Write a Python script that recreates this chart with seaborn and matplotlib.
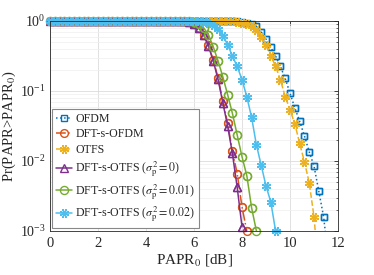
import numpy as np
import pandas as pd
import matplotlib
matplotlib.use("Agg")
import matplotlib.pyplot as plt
import seaborn as sns
from matplotlib.ticker import LogLocator, NullFormatter, LogFormatterMathtext, FixedLocator

sns.set_theme(style="white")
plt.rcParams["font.family"] = ["Liberation Serif", "DejaVu Serif"]
plt.rcParams["mathtext.fontset"] = "stix"

# PAPR0 grid [dB]
papr_grid = [0.0, 0.2, 0.4, 0.6, 0.8, 1.0, 1.2, 1.4, 1.6, 1.8,
             2.0, 2.2, 2.4, 2.6, 2.8, 3.0, 3.2, 3.4, 3.6, 3.8,
             4.0, 4.2, 4.4, 4.6, 4.8, 5.0, 5.2, 5.4, 5.6, 5.8,
             6.0, 6.2, 6.4, 6.6, 6.8, 7.0, 7.2, 7.4, 7.6, 7.8,
             8.0, 8.2, 8.4, 8.6, 8.8, 9.0, 9.2, 9.4, 9.6, 9.8,
             10.0, 10.2, 10.4, 10.6, 10.8, 11.0, 11.2, 11.4, 11.6]

ccdf_ofdm = [1.0, 1.0, 1.0, 1.0, 1.0, 1.0, 1.0, 1.0, 1.0, 1.0,
             1.0, 1.0, 1.0, 1.0, 1.0, 1.0, 1.0, 1.0, 1.0, 1.0,
             1.0, 1.0, 1.0, 1.0, 1.0, 1.0, 1.0, 1.0, 1.0, 1.0,
             1.0, 1.0, 1.0, 1.0, 1.0, 1.0, 1.0, 1.0, 0.995, 0.99,
             0.98, 0.95, 0.91, 0.84, 0.70, 0.55, 0.42, 0.316, 0.224, 0.151,
             0.093, 0.0575, 0.037, 0.023, 0.0135, 0.0085, 0.0037, 0.0016, 0.0004]

ccdf_dfts_ofdm = [1.0, 1.0, 1.0, 1.0, 1.0, 1.0, 1.0, 1.0, 1.0, 1.0,
                  1.0, 1.0, 1.0, 1.0, 1.0, 1.0, 1.0, 1.0, 1.0, 1.0,
                  1.0, 1.0, 1.0, 1.0, 1.0, 1.0, 1.0, 0.995, 0.985, 0.96,
                  0.91, 0.80, 0.64, 0.45, 0.28, 0.155, 0.072, 0.035, 0.0138, 0.0066,
                  0.0022, 0.001]

ccdf_otfs = [1.0, 1.0, 1.0, 1.0, 1.0, 1.0, 1.0, 1.0, 1.0, 1.0,
             1.0, 1.0, 1.0, 1.0, 1.0, 1.0, 1.0, 1.0, 1.0, 1.0,
             1.0, 1.0, 1.0, 1.0, 1.0, 1.0, 1.0, 1.0, 1.0, 1.0,
             1.0, 1.0, 1.0, 1.0, 1.0, 1.0, 1.0, 0.995, 0.99, 0.975,
             0.95, 0.91, 0.84, 0.74, 0.59, 0.45, 0.32, 0.224, 0.145, 0.083,
             0.054, 0.034, 0.018, 0.0098, 0.0049, 0.0016, 0.00025]

ccdf_dfts_otfs_0 = [1.0, 1.0, 1.0, 1.0, 1.0, 1.0, 1.0, 1.0, 1.0, 1.0,
                    1.0, 1.0, 1.0, 1.0, 1.0, 1.0, 1.0, 1.0, 1.0, 1.0,
                    1.0, 1.0, 1.0, 1.0, 1.0, 1.0, 1.0, 0.995, 0.985, 0.96,
                    0.91, 0.80, 0.63, 0.44, 0.27, 0.148, 0.068, 0.032, 0.0128, 0.0042,
                    0.00115]

ccdf_dfts_otfs_001 = [1.0, 1.0, 1.0, 1.0, 1.0, 1.0, 1.0, 1.0, 1.0, 1.0,
                      1.0, 1.0, 1.0, 1.0, 1.0, 1.0, 1.0, 1.0, 1.0, 1.0,
                      1.0, 1.0, 1.0, 1.0, 1.0, 1.0, 1.0, 1.0, 0.995, 0.985,
                      0.965, 0.91, 0.80, 0.64, 0.43, 0.27, 0.16, 0.089, 0.048, 0.0235,
                      0.0115, 0.0062, 0.00215, 0.001]

ccdf_dfts_otfs_002 = [1.0, 1.0, 1.0, 1.0, 1.0, 1.0, 1.0, 1.0, 1.0, 1.0,
                      1.0, 1.0, 1.0, 1.0, 1.0, 1.0, 1.0, 1.0, 1.0, 1.0,
                      1.0, 1.0, 1.0, 1.0, 1.0, 1.0, 1.0, 1.0, 1.0, 1.0,
                      0.995, 0.99, 0.975, 0.95, 0.89, 0.78, 0.62, 0.46, 0.316, 0.224,
                      0.145, 0.083, 0.042, 0.017, 0.0087, 0.0044, 0.0026, 0.001]

series_labels = ["OFDM", "DFT-s-OFDM", "OTFS",
                 r"DFT-s-OTFS ($\sigma^2_{\rm p} = 0$)",
                 r"DFT-s-OTFS ($\sigma^2_{\rm p} = 0.01$)",
                 r"DFT-s-OTFS ($\sigma^2_{\rm p} = 0.02$)"]
series_values = [ccdf_ofdm, ccdf_dfts_ofdm, ccdf_otfs,
                 ccdf_dfts_otfs_0, ccdf_dfts_otfs_001, ccdf_dfts_otfs_002]

colors = ["#0072BD", "#D95319", "#EDB120", "#7E2F8E", "#77AC30", "#4DBEEE"]
linestyles = [":", "-.", "--", "-", "-", "-"]
markers = ["s", "o", (8, 2, 22.5), "^", "o", (8, 2, 22.5)]
msizes = [4.6, 5.6, 6.6, 5.6, 5.8, 6.6]
mews = [1.0, 1.0, 1.0, 1.0, 1.0, 1.0]

fig = plt.figure(figsize=(3.74, 2.75), dpi=100)
ax = fig.add_axes([50 / 374, 44 / 275, 288 / 374, 210 / 275])

ax.set_yscale("log")
ax.set_xlim(0, 12)
ax.set_ylim(1e-3, 1)

for lab, vals, c, ls, m, ms, mew in zip(series_labels, series_values, colors,
                                        linestyles, markers, msizes, mews):
    df = pd.DataFrame({"papr": papr_grid[:len(vals)], "p": vals})
    sns.lineplot(data=df, x="papr", y="p", ax=ax, color=c, linestyle=ls,
                 linewidth=1.1, marker=m, markersize=ms, markerfacecolor="none",
                 markeredgecolor=c, markeredgewidth=mew, label=lab,
                 estimator=None, sort=False)
    inside = df[df["p"] >= 1e-3]
    ax.plot(inside["papr"], inside["p"], linestyle="none", marker=m,
            markersize=ms, markerfacecolor="none", markeredgecolor=c,
            markeredgewidth=mew, clip_on=False)

ax.xaxis.set_major_locator(FixedLocator([0, 2, 4, 6, 8, 10, 12]))
ax.yaxis.set_major_locator(LogLocator(base=10, numticks=10))
ax.yaxis.set_minor_locator(LogLocator(base=10, subs=np.arange(2, 10), numticks=20))
ax.yaxis.set_minor_formatter(NullFormatter())
ax.yaxis.set_major_formatter(LogFormatterMathtext())

ax.grid(True, which="major", color="#dcdcdc", linewidth=0.6)
ax.grid(True, which="minor", axis="y", color="#eeeeee", linewidth=0.5)
ax.set_axisbelow(True)

for sp in ax.spines.values():
    sp.set_visible(True)
    sp.set_color("#262626")
    sp.set_linewidth(0.6)

ax.tick_params(axis="both", which="both", direction="in", top=True, right=True,
               labelsize=10.5, colors="#262626", pad=4)
ax.tick_params(axis="y", which="major", labelsize=10, pad=3)
ax.tick_params(axis="both", which="major", length=3, width=0.6)
ax.tick_params(axis="y", which="minor", length=1.8, width=0.5)

ax.set_xlabel(r"PAPR$_0$ [dB]", fontsize=11, color="#262626", labelpad=2)
ax.set_ylabel(r"Pr(PAPR>PAPR$_0$)", fontsize=10.5, color="#262626")
ax.yaxis.set_label_coords(-0.112, 0.5)

leg = ax.legend(loc="lower left", bbox_to_anchor=(2 / 288, 3 / 210),
                borderaxespad=0, fontsize=8.6, handlelength=1.4,
                handletextpad=0.25, labelspacing=0.3, borderpad=0.3,
                fancybox=False, framealpha=1, edgecolor="#888888")
leg.get_frame().set_linewidth(0.8)

fig.savefig("out.png", dpi=100)
